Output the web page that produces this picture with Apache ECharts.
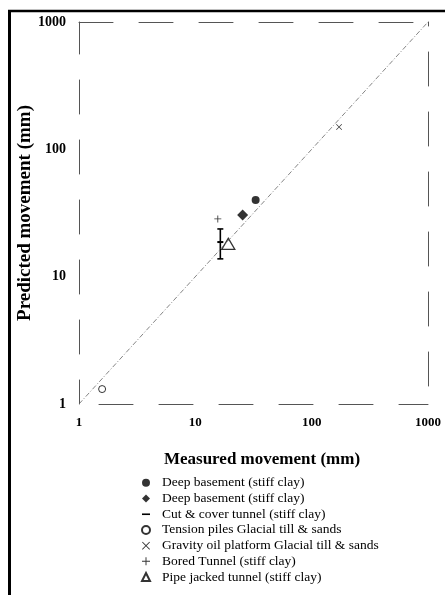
<!DOCTYPE html>
<html>
<head>
<meta charset="utf-8">
<script src="https://cdn.jsdelivr.net/npm/echarts@6/dist/echarts.min.js"></script>
<style>html,body{margin:0;padding:0;background:#fff}#c{width:445px;height:595px}</style>
</head>
<body>
<div id="c"></div>
<script>
// Data (measured, predicted) in mm
const deepBasementCircle = [[33, 40]];
const deepBasementDiamond = [[25.5, 30.5]];
// cut & cover: [measured, predicted, low, high]
const cutCover = [[16.4, 18.7, 13.8, 23.7]];
const tensionPiles = [[1.58, 1.31]];
const gravityPlatform = [[172, 150]];
const boredTunnel = [[15.6, 28.4]];
const pipeJacked = [[19.2, 18.1]];
const equalityLine = [[1, 1], [1000, 1000]];
const axisTicks = [1, 10, 100, 1000];

const names = [
  'Deep basement (stiff clay)',
  'Deep basement (stiff clay) ',
  'Cut & cover tunnel (stiff clay)',
  'Tension piles Glacial till & sands',
  'Gravity oil platform Glacial till & sands',
  'Bored Tunnel (stiff clay)',
  'Pipe jacked tunnel (stiff clay)'
];

const SERIF = 'Liberation Serif';
const plusPath = 'path://M4.4,0h1.2v4.4h4.4v1.2h-4.4v4.4h-1.2v-4.4h-4.4v-1.2h4.4z';
const xPath = 'path://M0.8,0L5,4.2L9.2,0L10,0.8L5.8,5L10,9.2L9.2,10L5,5.8L0.8,10L0,9.2L4.2,5L0,0.8z';
const barPath = 'path://M0,0h10v2h-10z';

const chart = echarts.init(document.getElementById('c'), null, {renderer: 'canvas'});

const axisLineDashed = (offset) => ({
  show: true,
  lineStyle: {color: '#555', width: 1, type: [34, 26], dashOffset: offset}
});

const logAxisCommon = {
  type: 'log', logBase: 10, min: 1, max: 1000,
  splitLine: {show: false}, axisTick: {show: false}, minorTick: {show: false}
};

chart.setOption({
  animation: false,
  backgroundColor: '#fff',
  grid: {left: 79, right: 17, top: 22, bottom: 191},
  xAxis: [
    Object.assign({}, logAxisCommon, {
      position: 'bottom',
      name: 'Measured movement (mm)',
      nameLocation: 'middle', nameGap: 47, nameMoveOverlap: false,
      nameTextStyle: {fontFamily: SERIF, fontWeight: 'bold', fontSize: 17, color: '#000', padding: [0, 0, 0, 17]},
      axisLine: axisLineDashed(-80),
      axisLabel: {fontFamily: SERIF, fontWeight: 'bold', fontSize: 13, color: '#000', margin: 12,
        formatter: v => axisTicks.includes(Math.round(v)) ? String(Math.round(v)) : ''}
    }),
    Object.assign({}, logAxisCommon, {
      position: 'top',
      axisLine: axisLineDashed(0),
      axisLabel: {show: false}
    })
  ],
  yAxis: [
    Object.assign({}, logAxisCommon, {
      position: 'left',
      name: 'Predicted movement (mm)',
      nameLocation: 'middle', nameGap: 44, nameMoveOverlap: false,
      nameTextStyle: {fontFamily: SERIF, fontWeight: 'bold', fontSize: 19, color: '#000'},
      axisLine: axisLineDashed(10),
      axisLabel: {fontFamily: SERIF, fontWeight: 'bold', fontSize: 14, color: '#000', margin: 13,
        formatter: v => axisTicks.includes(Math.round(v)) ? String(Math.round(v)) : ''}
    }),
    Object.assign({}, logAxisCommon, {
      position: 'right',
      axisLine: axisLineDashed(-18),
      axisLabel: {show: false}
    })
  ],
  legend: {
    orient: 'vertical', left: 136, top: 470,
    itemWidth: 8, itemHeight: 8, itemGap: 0,
    textStyle: {fontFamily: SERIF, fontSize: 13.5, lineHeight: 15.7, color: '#000', padding: [0, 0, 0, 7]},
    data: [
      {name: names[0], icon: 'circle'},
      {name: names[1], icon: 'diamond'},
      {name: names[2], icon: barPath},
      {name: names[3], icon: 'circle'},
      {name: names[4], icon: xPath},
      {name: names[5], icon: plusPath},
      {name: names[6], icon: 'triangle'}
    ]
  },
  graphic: [
    {type: 'line', shape: {x1: 9.5, y1: 10, x2: 9.5, y2: 595}, style: {stroke: '#000', lineWidth: 3}},
    {type: 'line', shape: {x1: 8, y1: 11, x2: 445, y2: 11}, style: {stroke: '#000', lineWidth: 2.5}}
  ],
  series: [
    {
      type: 'line', data: equalityLine, symbol: 'none', silent: true,
      lineStyle: {color: '#666', width: 0.8, type: [5, 2, 1, 2]}
    },
    {name: names[0], type: 'scatter', data: deepBasementCircle, symbol: 'circle', symbolSize: 8,
      itemStyle: {color: '#000'}},
    {name: names[1], type: 'scatter', data: deepBasementDiamond, symbol: 'diamond', symbolSize: 11,
      itemStyle: {color: '#000'}},
    {name: names[2], type: 'custom', data: cutCover,
      encode: {x: 0, y: [1, 2, 3]},
      itemStyle: {color: '#000'},
      renderItem: function (params, api) {
        const x = api.value(0);
        const pm = api.coord([x, api.value(1)]);
        const pl = api.coord([x, api.value(2)]);
        const ph = api.coord([x, api.value(3)]);
        const st = {stroke: '#000', lineWidth: 1.6};
        return {type: 'group', children: [
          {type: 'line', shape: {x1: pl[0], y1: pl[1], x2: ph[0], y2: ph[1]}, style: st},
          {type: 'line', shape: {x1: pl[0] - 3, y1: pl[1], x2: pl[0] + 3, y2: pl[1]}, style: st},
          {type: 'line', shape: {x1: ph[0] - 3, y1: ph[1], x2: ph[0] + 3, y2: ph[1]}, style: st},
          {type: 'line', shape: {x1: pm[0] - 3, y1: pm[1], x2: pm[0] + 3, y2: pm[1]}, style: {stroke: '#000', lineWidth: 2}}
        ]};
      }
    },
    {name: names[3], type: 'scatter', data: tensionPiles, symbol: 'circle', symbolSize: 7,
      itemStyle: {color: '#fff', borderColor: '#000', borderWidth: 1}},
    {name: names[4], type: 'scatter', data: gravityPlatform, symbol: xPath, symbolSize: 6,
      itemStyle: {color: '#000'}},
    {name: names[5], type: 'scatter', data: boredTunnel, symbol: plusPath, symbolSize: 7,
      itemStyle: {color: '#000'}},
    {name: names[6], type: 'scatter', data: pipeJacked, symbol: 'triangle', symbolSize: [13, 11],
      itemStyle: {color: 'rgba(255,255,255,0)', borderColor: '#000', borderWidth: 1.3}}
  ]
});
</script>
</body>
</html>
